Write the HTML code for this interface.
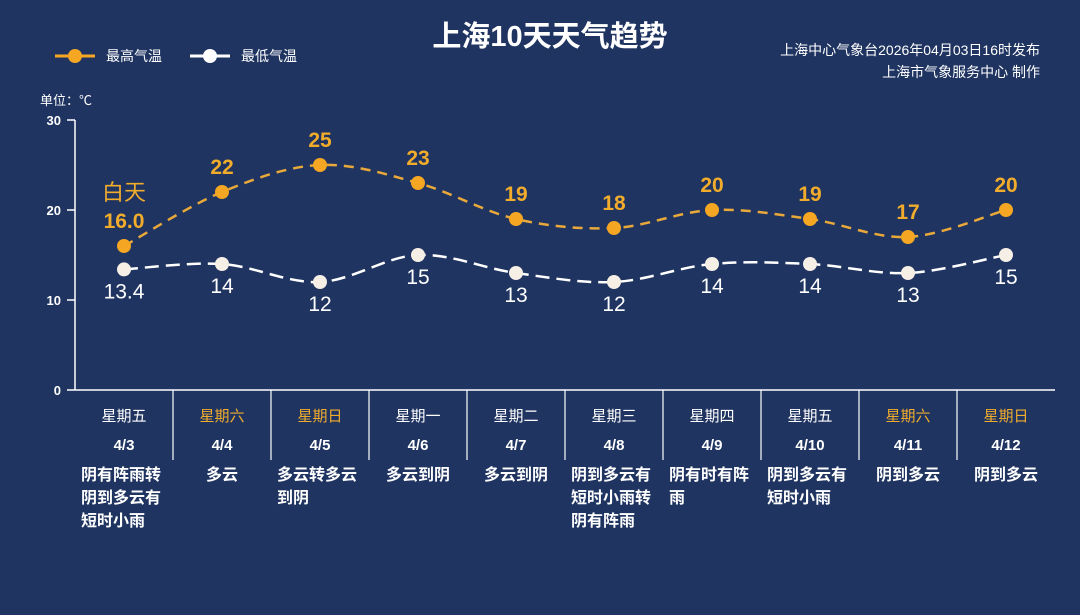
<!DOCTYPE html>
<html><head><meta charset="utf-8"><style>
body{margin:0;width:1080px;height:610px;background:#1f3461;overflow:hidden;font-family:"Liberation Sans","Noto Sans CJK SC",sans-serif}
</style></head><body>
<svg id="s" width="1080" height="610" xmlns="http://www.w3.org/2000/svg" font-family="Liberation Sans, Noto Sans CJK SC, sans-serif">
<rect width="1080" height="610" fill="#1f3461"/>
<text x="550" y="46" text-anchor="middle" font-size="29" font-weight="bold" fill="#fff">上海10天天气趋势</text>
<text x="1040" y="55" text-anchor="end" font-size="14" fill="#fff">上海中心气象台2026年04月03日16时发布</text>
<text x="1040" y="77" text-anchor="end" font-size="14" fill="#fff">上海市气象服务中心  制作</text>
<line x1="55" y1="56" x2="95" y2="56" stroke="#f5a623" stroke-width="3"/>
<circle cx="75" cy="56" r="7" fill="#f5a623"/>
<text x="106" y="61" font-size="14" fill="#fff">最高气温</text>
<line x1="190" y1="56" x2="230" y2="56" stroke="#fff" stroke-width="3"/>
<circle cx="210" cy="56" r="7" fill="#fff"/>
<text x="241" y="61" font-size="14" fill="#fff">最低气温</text>
<text x="40" y="105" font-size="13" fill="#fff">单位：℃</text>
<g font-size="13" font-weight="bold" fill="#fff" text-anchor="end">
<text x="61" y="125">30</text><text x="61" y="215">20</text><text x="61" y="305">10</text><text x="61" y="395">0</text></g>
<g stroke="#fff" stroke-width="1.5">
<line x1="75" y1="120" x2="75" y2="390"/>
<line x1="67" y1="120" x2="75" y2="120"/><line x1="67" y1="210" x2="75" y2="210"/><line x1="67" y1="300" x2="75" y2="300"/><line x1="67" y1="390" x2="1055" y2="390"/>
</g>
<g id="g"></g>
</svg>
<script>
const hi=[16,22,25,23,19,18,20,19,17,20],lo=[13.4,14,12,15,13,12,14,14,13,15];
const days=["星期五","星期六","星期日","星期一","星期二","星期三","星期四","星期五","星期六","星期日"];
const dates=["4/3","4/4","4/5","4/6","4/7","4/8","4/9","4/10","4/11","4/12"];
const wx=[["阴有阵雨转","阴到多云有","短时小雨"],["多云"],["多云转多云","到阴"],["多云到阴"],["多云到阴"],["阴到多云有","短时小雨转","阴有阵雨"],["阴有时有阵","雨"],["阴到多云有","短时小雨"],["阴到多云"],["阴到多云"]];
const X=i=>124+98*i,Y=v=>390-9*v;
let h='';
function path(a){const p=a.map((v,i)=>[X(i),Y(v)]);let d=`M${p[0][0]},${p[0][1]}`;
for(let i=0;i<p.length-1;i++){const p0=p[i-1]||p[i],p1=p[i],p2=p[i+1],p3=p[i+2]||p2;
d+=` C${p1[0]+(p2[0]-p0[0])/6},${p1[1]+(p2[1]-p0[1])/6} ${p2[0]-(p3[0]-p1[0])/6},${p2[1]-(p3[1]-p1[1])/6} ${p2[0]},${p2[1]}`;}return d;}
h+=`<path d="${path(hi)}" fill="none" stroke="#e8a93a" stroke-width="2.5" stroke-dasharray="10,7"/>`;
h+=`<path d="${path(lo)}" fill="none" stroke="#fff" stroke-width="2.5" stroke-dasharray="14,7"/>`;
for(let i=0;i<10;i++){const x=X(i);
h+=`<circle cx="${x}" cy="${Y(hi[i])}" r="7" fill="#f5a623"/>`;
h+=`<circle cx="${x}" cy="${Y(lo[i])}" r="7" fill="#f6efe6"/>`;
h+=`<text x="${x}" y="${Y(hi[i])-18}" text-anchor="middle" font-size="21" font-weight="bold" fill="#f1ac2c">${i?hi[i]:'16.0'}</text>`;
h+=`<text x="${x}" y="${Y(lo[i])+29}" text-anchor="middle" font-size="21" fill="#fff">${i?lo[i]:'13.4'}</text>`;
const we=(i==1||i==2||i==8||i==9);
h+=`<text x="${x}" y="421" text-anchor="middle" font-size="15" fill="${we?'#f1ac2c':'#fff'}">${days[i]}</text>`;
h+=`<text x="${x}" y="450" text-anchor="middle" font-size="15" font-weight="bold" fill="#fff">${dates[i]}</text>`;
const single=wx[i].length==1;
wx[i].forEach((t,j)=>{h+= single?`<text x="${x}" y="480" text-anchor="middle" font-size="16" font-weight="bold" fill="#fff">${t}</text>`
 :`<text x="${x-43}" y="${480+j*23}" font-size="16" font-weight="bold" fill="#fff">${t}</text>`;});
if(i<9)h+=`<line x1="${x+49}" y1="390" x2="${x+49}" y2="460" stroke="#fff" stroke-width="1.2"/>`;}
h+=`<text x="124" y="200" text-anchor="middle" font-size="22" fill="#f1ac2c">白天</text>`;
document.getElementById('g').innerHTML=h;
</script>
</body></html>
